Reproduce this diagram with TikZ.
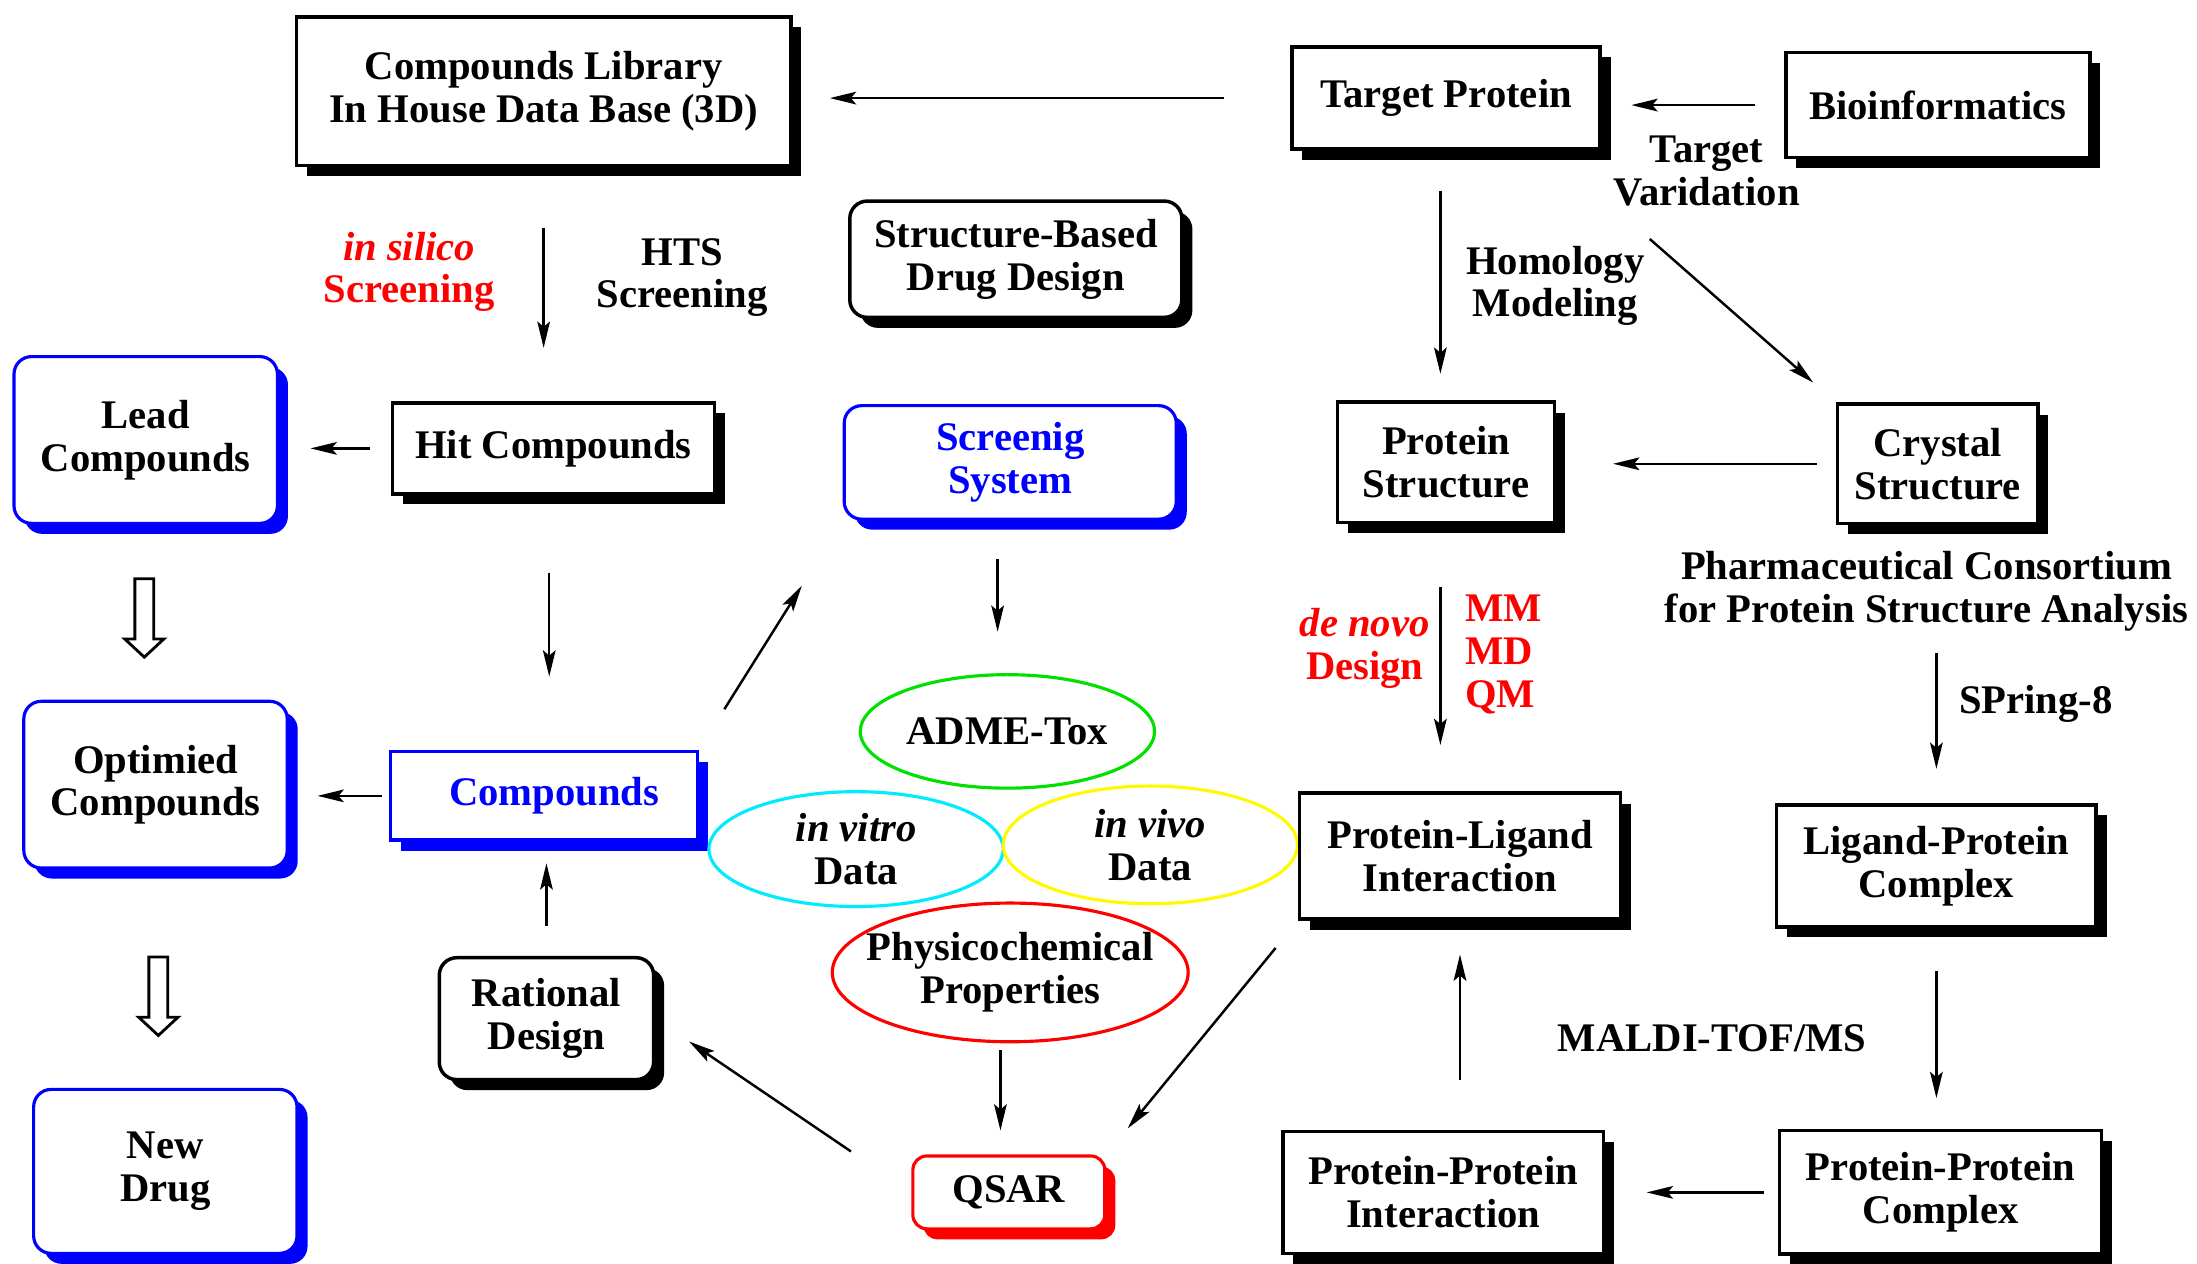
\documentclass[tikz,border=0pt]{standalone}
\usepackage{fontspec}
\setmainfont{Liberation Serif}
\usetikzlibrary{arrows.meta,shapes.geometric,shadows}
\definecolor{boxblue}{RGB}{0,0,255}
\definecolor{boxred}{RGB}{255,0,0}
\definecolor{admegreen}{RGB}{0,225,0}
\definecolor{vitrocyan}{RGB}{0,235,255}
\definecolor{vivoyellow}{RGB}{255,250,0}

\begin{document}
\begin{tikzpicture}[
  x=0.4pt, y=-0.4pt,
  font=\bfseries\fontsize{11.6}{12.2}\selectfont,
  shade3d/.style={drop shadow={fill=#1, opacity=1, shadow xshift=3pt, shadow yshift=-3pt}},
  block/.style={
    draw=black,
    fill=white,
    line width=1pt,
    align=center,
    inner sep=1pt,
    shade3d=black
  },
  roundblock/.style={
    draw=black,
    fill=white,
    line width=1pt,
    rounded corners=5pt,
    align=center,
    inner sep=1pt,
    shade3d=black
  },
  blueblock/.style={
    draw=boxblue,
    fill=white,
    line width=0.9pt,
    rounded corners=5pt,
    align=center,
    inner sep=1pt,
    shade3d=boxblue
  },
  bluesquare/.style={
    draw=boxblue,
    fill=white,
    line width=0.9pt,
    align=center,
    inner sep=1pt,
    text=boxblue,
    shade3d=boxblue
  },
  redblock/.style={
    draw=boxred,
    fill=white,
    line width=0.9pt,
    rounded corners=4pt,
    align=center,
    inner sep=1pt,
    shade3d=boxred
  },
  oval/.style={ellipse, draw=#1, line width=0.9pt, inner sep=0pt, align=center},
  annot/.style={align=center, inner sep=0pt},
  redannot/.style={align=center, inner sep=0pt, text=boxred},
  arr/.style={-{Stealth[length=7.5pt,width=3.6pt,inset=1.5pt]}, line width=0.7pt},
  hollow/.style={draw=black, line width=0.8pt, fill=white, line join=miter}
]
\useasboundingbox (0,0) rectangle (1568,902);

% ===== Left column: compounds =====
\node[block, minimum width=141.2pt, minimum height=42.4pt] (lib) at (388,65) {Compounds Library\\In House Data Base (3D)};
\node[block, minimum width=92pt, minimum height=26pt] (hit) at (395,320) {Hit Compounds};
\node[bluesquare, minimum width=87.6pt, minimum height=25.2pt] (compounds) at (388,568) {\hspace*{6pt}Compounds};
\node[roundblock, minimum width=61.2pt, minimum height=34.8pt] (rational) at (390,727) {Rational\\Design};

\node[blueblock, minimum width=75.2pt, minimum height=47.6pt] (lead) at (104,314) {Lead\\Compounds};
\node[blueblock, minimum width=75.2pt, minimum height=47.6pt] (optim) at (111,560) {Optimied\\Compounds};
\node[blueblock, minimum width=75.2pt, minimum height=46.8pt] (newdrug) at (118,836) {New\\Drug};

% screening labels
\node[redannot] (silico) at (292,194) {\textit{in silico}\\Screening};
\node[annot] (hts) at (487,198) {HTS\\Screening};

% ===== Middle: screening and ADME =====
\node[roundblock, minimum width=94.8pt, minimum height=33.2pt] (sbdd) at (725,185) {Structure-Based\\Drug Design};
\node[blueblock, text=boxblue, minimum width=94.8pt, minimum height=32.4pt] (screen) at (721,330) {Screenig\\System};

\node[oval=admegreen, minimum width=84pt, minimum height=32.4pt] (adme) at (719,522) {ADME-Tox};
\node[oval=vitrocyan, minimum width=84pt, minimum height=32.8pt] (vitro) at (611,606) {\textit{in vitro}\\Data};
\node[oval=vivoyellow, minimum width=84pt, minimum height=33.6pt] (vivo) at (821,603) {\textit{in vivo}\\Data};
\node[oval=boxred, inner xsep=-11pt, minimum width=101.6pt, minimum height=39.6pt] (phys) at (721,694) {Physicochemical\\Properties};
\node[redblock, minimum width=54.8pt, minimum height=20.8pt] (qsar) at (720,851) {QSAR};

% ===== Right side: protein =====
\node[block, minimum width=88pt, minimum height=29.2pt] (target) at (1032,70) {Target Protein};
\node[block, minimum width=86.8pt, minimum height=30pt] (bioinf) at (1383,75) {Bioinformatics};
\node[block, minimum width=62pt, minimum height=34.4pt] (protstruct) at (1032,330) {Protein\\Structure};
\node[block, minimum width=57.2pt, minimum height=34pt] (crystal) at (1383,331) {Crystal\\Structure};
\node[block, minimum width=91.6pt, minimum height=36pt] (pli) at (1042,611) {Protein-Ligand\\Interaction};
\node[block, minimum width=91.2pt, minimum height=34.8pt] (lpc) at (1382,618) {Ligand-Protein\\Complex};
\node[block, minimum width=91.6pt, minimum height=34.8pt] (ppi) at (1030,851) {Protein-Protein\\Interaction};
\node[block, minimum width=92pt, minimum height=35.2pt] (ppc) at (1385,851) {Protein-Protein\\Complex};

% protein labels
\node[annot] (tv) at (1218,122) {Target\\Varidation};
\node[annot] (homol) at (1110,204) {Homology\\Modeling};
\node[annot] (pcsa) at (1375,422) {Pharmaceutical Consortium\\for Protein Structure Analysis};
\node[redannot] (denovo) at (974,463) {\textit{de novo}\\Design};
\node[redannot, align=left] (mmq) at (1073,467) {MM\\MD\\QM};
\node[annot] (spring) at (1453,502) {SPring-8};
\node[annot] (maldi) at (1222,741) {MALDI-TOF/MS};

% ===== Arrows =====
\draw[arr, shorten <=18.8pt, shorten >=10.6pt] (target.west) -- (lib.east |- target.west);
\draw[arr, shorten <=8.2pt, shorten >=8.4pt] (bioinf.west) -- (target.east |- bioinf.west);
\draw[arr, shorten <=11.4pt, shorten >=7.6pt] ([xshift=-1.6pt]target.south) -- ([xshift=-1.6pt]protstruct.north);
\draw[arr, shorten <=14pt, shorten >=8.6pt] (tv.south west) -- (crystal.north west);
\draw[arr, shorten <=5.4pt, shorten >=16.2pt] (crystal.west) -- (protstruct.east |- crystal.west);
\draw[arr, shorten <=6pt, shorten >=9.8pt] (pcsa.south -| lpc.north) -- (lpc.north);
\draw[arr, shorten <=18pt, shorten >=13.2pt] ([xshift=-1.6pt]protstruct.south) -- ([xshift=-1.6pt]protstruct.south |- pli.north);
\draw[arr, shorten <=12.2pt, shorten >=8.8pt] (lpc.south) -- (lpc.south |- ppc.north);
\draw[arr, shorten <=4pt, shorten >=11.8pt] (ppc.west) -- (ppi.east);
\draw[arr, shorten <=14.2pt, shorten >=9.6pt] (ppi.north -| pli.south) -- (pli.south);
\draw[arr, shorten <=10pt, shorten >=9.6pt] (pli.south west) -- (qsar.north east);
\draw[arr, shorten <=2pt, shorten >=6.8pt] ([xshift=-2.8pt]phys.south) -- ([xshift=-2.8pt]phys.south |- qsar.north);
\draw[arr, shorten <=20.8pt, shorten >=11.6pt] (qsar.west) -- (rational.east);
\draw[arr, shorten <=8.6pt, shorten >=6.2pt] (rational.north) -- (rational.north |- compounds.south);
\draw[arr, shorten <=2pt, shorten >=8.2pt] (compounds.west) -- (optim.east |- compounds.west);
\draw[arr, shorten <=13.8pt, shorten >=21.9pt] (compounds.north east) -- (screen.south west);
\draw[arr, shorten <=11pt, shorten >=11.8pt] ([xshift=-3.6pt]screen.south) -- ([xshift=-3.6pt]screen.south |- adme.north);
\draw[arr, shorten <=22pt, shorten >=21pt] ([xshift=-1.2pt]hit.south) -- ([xshift=-1.2pt]hit.south |- compounds.north);
\draw[arr, shorten <=6pt, shorten >=9pt] (hit.west) -- (lead.east |- hit.west);
\draw[arr, shorten <=17.5pt, shorten >=15.2pt] (lib.south) -- (lib.south |- hit.north);

% hollow arrows between the blue boxes
\coordinate (hol1) at (103,413);
\coordinate (hol2) at (113,683);
\draw[hollow] (hol1) ++(-6.75,0) -- ++(0,43) -- ++(-7.25,0) -- ++(14,13) -- ++(14,-13) -- ++(-7.25,0) -- ++(0,-43) -- cycle;
\draw[hollow] (hol2) ++(-6.75,0) -- ++(0,43) -- ++(-7.25,0) -- ++(14,13) -- ++(14,-13) -- ++(-7.25,0) -- ++(0,-43) -- cycle;

\end{tikzpicture}
\end{document}
